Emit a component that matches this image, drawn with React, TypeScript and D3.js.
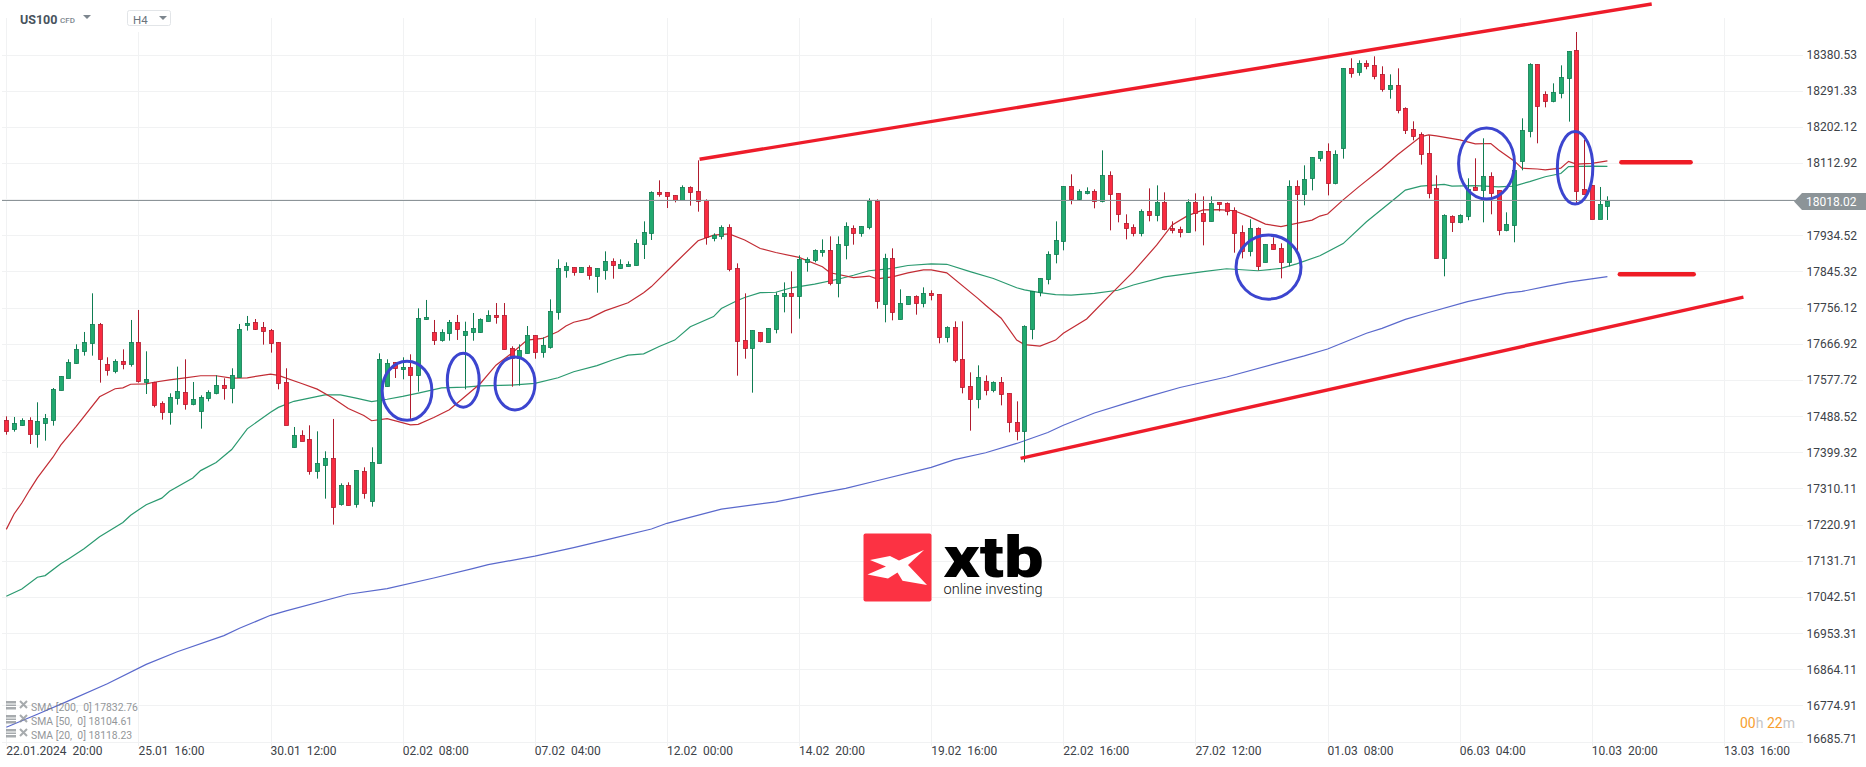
import { line, scaleLinear } from "d3";

const width = 1866;
const height = 767;

// 4h candles
const opens = [
  17479.7, 17457.5, 17467.4, 17478.1, 17445.2, 17472.3, 17479.7, 17552.1, 17583.3, 17618.7,
  17650, 17668, 17714.9, 17616.2, 17599, 17623.6, 17616.2, 17670.5, 17571.8, 17571.8,
  17520, 17497.8, 17532.3, 17547.1, 17517.5, 17500.3, 17532.3, 17544.7, 17564.4, 17557,
  17585.8, 17712.4, 17719.8, 17707.5, 17700.9, 17670.5, 17571.8, 17413.1, 17441, 17431.2,
  17353.9, 17367.1, 17384.3, 17270.9, 17317.7, 17270.9, 17352.3, 17279.9, 17372, 17563.6,
  17621.2, 17603.9, 17608.8, 17589.1, 17727.2, 17695.2, 17675.4, 17692.7, 17719.8, 17689.3,
  17695.1, 17695.9, 17722.2, 17737, 17737, 17655.6, 17630.9, 17643.3, 17687.7, 17645.8,
  17659.7, 17744.4, 17849.7, 17855.4, 17844.8, 17855.4, 17834.9, 17849.7, 17870.2, 17853,
  17857.9, 17860.4, 17912.2, 17939.3, 18040.5, 18040.5, 18033, 18020.7, 18052.8, 18042.9,
  18020.7, 17927, 17931.9, 17954.1, 17853, 17675.4, 17655.6, 17695.1, 17670.4, 17702.5,
  17783.9, 17791.3, 17783.9, 17867.8, 17872.7, 17892.4, 17897.4, 17816, 17909.7, 17951.6,
  17939.3, 17954.1, 18018.2, 17764.2, 17877.6, 17727.2, 17764.2, 17783.9, 17766.6, 17791.3,
  17788.8, 17682.8, 17707.4, 17628.5, 17561.9, 17529.8, 17574.2, 17552, 17571.7, 17544.6,
  17473.1, 17450.9, 17702.5, 17793.8, 17825.8, 17887.5, 17919.6, 18055.3, 18023.2, 18038,
  18042.9, 18018.2, 18082.4, 18038, 17964, 17954.1, 17939.3, 17993.6, 17983.7, 18015.8,
  17951.6, 17949.2, 17941.8, 18015.8, 17988.7, 17968.9, 18015.8, 18013.3, 17996.1, 17941.8,
  17894.9, 17951.6, 17867.8, 17912.2, 17902.3, 17867.8, 18055.3, 18035.5, 18075, 18124.3,
  18141.6, 18062.7, 18150.7, 18346.4, 18336.6, 18358.8, 18353.8, 18331.6, 18294.6, 18304.5,
  18247.8, 18196, 18183.6, 18136.7, 18050.4, 17877.7, 17981.3, 17966.5, 17981.3, 18052.9,
  18045.5, 18080, 18045.5, 17946.8, 17959.1, 18117, 18191, 18356.3, 18282.3, 18265,
  18284.8, 18321.8, 18391.7, 18048.7, 18058.6, 17975.6, 18007.6,
];
const highs = [
  17487.9, 17486.3, 17483, 17485.5, 17522.5, 17493.7, 17557.8, 17586.7, 17628.6, 17665.6,
  17696, 17791.4, 17718.2, 17633.5, 17628.6, 17653.2, 17725.6, 17750.3, 17648.3, 17573,
  17524.9, 17544.7, 17610.5, 17628.6, 17572.6, 17539.7, 17552.1, 17589.1, 17581.7, 17606.4,
  17715.7, 17735.5, 17728, 17720.6, 17703.4, 17671, 17606.4, 17461.6, 17453.4, 17465.7,
  17450.9, 17401.6, 17481.4, 17322.6, 17325.1, 17354.7, 17362.1, 17411.5, 17643.4, 17628.6,
  17621.5, 17633.5, 17640.9, 17754.4, 17775, 17725.6, 17702.6, 17725.6, 17738, 17721.4,
  17742.8, 17729.6, 17749.4, 17767.4, 17767.4, 17660.6, 17665.5, 17710.7, 17688, 17682.8,
  17776.5, 17875.2, 17867.8, 17855.6, 17855.6, 17860.4, 17853.2, 17894.9, 17877.6, 17875.2,
  17870.2, 17924.5, 17968.9, 18042.9, 18070.1, 18040.7, 18033.2, 18057.7, 18055.3, 18119.4,
  18023.2, 17939.3, 17959, 17961.5, 17865.3, 17791.3, 17700.2, 17695.3, 17705.2, 17793.8,
  17818.4, 17845.6, 17885, 17880.1, 17899.8, 17924.5, 17931.9, 17931.9, 17966.5, 17959,
  17956.8, 18025.7, 18023.2, 17889, 17902.3, 17801.2, 17784.1, 17786.4, 17806.1, 17798.7,
  17789, 17709.9, 17722.2, 17722.2, 17596.4, 17613.7, 17589, 17574.2, 17584.9, 17544.8,
  17524.9, 17712.4, 17796.4, 17828.5, 17894.9, 17968.9, 18055.5, 18084.9, 18047.9, 18052.8,
  18047.9, 18144.1, 18092.3, 18038.2, 17986.2, 17961.5, 17998.5, 18050.3, 18057.7, 18040.5,
  17968.9, 17955.8, 18023.2, 18038, 18030.6, 18030.6, 18016, 18015.8, 18003.5, 17959,
  17973.9, 17954.1, 17912.4, 17929.4, 17914.7, 18070.1, 18070.1, 18107.1, 18127, 18141.8,
  18161.3, 18144.1, 18346.6, 18371.1, 18366.2, 18366.2, 18376, 18351.4, 18331.6, 18346.4,
  18250.2, 18215.7, 18188.5, 18181.1, 18082.5, 17986.3, 17983.8, 17986.3, 18075.1, 18124.4,
  18173.8, 18089.9, 18045.7, 17991.2, 18120.3, 18223.1, 18358.8, 18356.5, 18289.7, 18309.4,
  18353.8, 18388.6, 18436, 18169.6, 18058.8, 18053.7, 18030.7,
];
const lows = [
  17442.7, 17450.1, 17464.9, 17419.7, 17410.6, 17427.9, 17464.9, 17552, 17583, 17617,
  17637.6, 17637.6, 17571, 17588.3, 17594, 17603.9, 17610.5, 17571, 17543, 17510.1,
  17479.7, 17467.4, 17516.7, 17504.4, 17515.1, 17457.5, 17524.9, 17542.2, 17529, 17520,
  17584.2, 17699.3, 17700.9, 17664.7, 17645, 17554.5, 17467.4, 17410.6, 17427.9, 17344,
  17334.2, 17284.8, 17220.7, 17267.6, 17268, 17262.6, 17284.8, 17265.1, 17372, 17561,
  17582.5, 17579.2, 17481.4, 17548.8, 17725.6, 17663.9, 17672.1, 17674.6, 17676.3, 17554.5,
  17674.5, 17694.3, 17722, 17716.5, 17653, 17561, 17563.5, 17643, 17630.1, 17632.6,
  17654.8, 17726.4, 17829.9, 17834.9, 17842.3, 17825, 17792.9, 17825, 17827.5, 17852.2,
  17857.1, 17859.6, 17876, 17922.9, 18029.8, 18001.8, 18015.8, 18020.5, 18007.6, 17992.8,
  17911.4, 17919.6, 17924.5, 17845.6, 17588.2, 17630.1, 17546.3, 17670.4, 17670.2, 17692.6,
  17744.4, 17692.6, 17728.8, 17844.8, 17867.8, 17881.8, 17811.1, 17781.4, 17875.2, 17911.4,
  17931.1, 17949.2, 17753.5, 17719.8, 17724.7, 17727, 17764, 17738.7, 17756.8, 17774,
  17668, 17670.4, 17621.1, 17544.6, 17452.5, 17507.6, 17539.7, 17547.1, 17515, 17448.4,
  17428.7, 17374.4, 17677.8, 17783.9, 17813.5, 17865.3, 17897.4, 18010.9, 18020.7, 18035.5,
  18001, 18015.8, 17946.7, 17966.5, 17924.5, 17931.9, 17931.9, 17968.9, 17968.9, 17946.7,
  17939.3, 17929.4, 17941.6, 17944.2, 17909.7, 17968.7, 17993.6, 17983.7, 17891.6, 17877.6,
  17882.6, 17848, 17867.6, 17899.6, 17828.3, 17857.9, 17892.4, 18008.4, 18045.4, 18116.9,
  18033, 18060.2, 18123.6, 18323.4, 18328.3, 18344, 18319.3, 18288.9, 18271.6, 18235.4,
  18184.4, 18168.8, 18108.8, 18025.7, 17877.5, 17833.3, 17942.7, 17964, 17971.5, 18045.3,
  17966.5, 17986.3, 17934.5, 17944.3, 17917.2, 18094.8, 18176.2, 18161.4, 18250.2, 18262.6,
  18272.4, 18214.9, 18014.2, 18036.2, 17975.4, 17975.4, 17972.3,
];
const closes = [
  17452.6, 17470.7, 17478.1, 17445.2, 17475.6, 17483, 17554.5, 17586.7, 17621.2, 17653.2,
  17670.5, 17714.9, 17628.6, 17601.4, 17623.6, 17616.2, 17670.5, 17574.3, 17579.2, 17516.7,
  17497.8, 17534.8, 17549.6, 17517.5, 17529.9, 17534.8, 17547.1, 17564.4, 17557, 17589.1,
  17703.4, 17718.2, 17703.4, 17697.6, 17668, 17569.3, 17467.4, 17441, 17427.9, 17353.9,
  17372, 17384.3, 17263.4, 17317.7, 17268.4, 17354.7, 17298, 17374.5, 17628.6, 17618.7,
  17606.4, 17608.8, 17589.1, 17729.7, 17732.2, 17675.4, 17695.2, 17719.8, 17702.6, 17697.6,
  17705, 17727.2, 17737, 17732.1, 17653.2, 17630.9, 17650.7, 17687.7, 17645.8, 17663,
  17746.9, 17853, 17857.9, 17844.8, 17855.4, 17837.3, 17853, 17870.2, 17860.4, 17862.8,
  17862.8, 17914.7, 17941.8, 18040.5, 18035.5, 18030.6, 18020.7, 18052.8, 18040.5, 18019.9,
  17929.4, 17934.4, 17954.1, 17850.5, 17672.9, 17655.6, 17700, 17672.9, 17705, 17786.4,
  17791.3, 17783.9, 17875.2, 17875.2, 17897.4, 17897.4, 17816, 17912.2, 17956.6, 17939.3,
  17956.6, 18018.2, 17771.6, 17877.6, 17744.4, 17766.6, 17783.9, 17766.6, 17791.3, 17786.4,
  17682.8, 17707.4, 17626, 17559.4, 17529.8, 17584.1, 17552, 17571.7, 17542.2, 17473.1,
  17450.9, 17709.9, 17796.2, 17828.3, 17889, 17922.1, 18055.3, 18023.2, 18042.9, 18042.9,
  18019.1, 18082.4, 18035.5, 17986.2, 17951.6, 17939.3, 17993.6, 17983.7, 18015.8, 17949.2,
  17946.7, 17941.8, 18015.8, 17988.7, 17968.9, 18013.3, 18010.9, 17993.6, 17939.3, 17894.9,
  17951.6, 17857.9, 17912.2, 17899.8, 17867.8, 18055.3, 18035.5, 18072.5, 18126.8, 18141.6,
  18062.7, 18134.2, 18346.4, 18334.1, 18358.8, 18351.4, 18326.7, 18294.6, 18304.5, 18242.8,
  18193.5, 18178.7, 18134.3, 18038, 17877.7, 17983.8, 17966.5, 17983.8, 18047.9, 18045.5,
  18080, 18038, 17946.8, 17961.6, 18095.6, 18193.5, 18356.3, 18252.7, 18265, 18287.2,
  18324.2, 18388.4, 18044.6, 18036.4, 17975.6, 18010.9, 18018,
];

const sma20Bars = [
  0, 1, 2, 3, 4, 6, 7, 9, 12, 14, 15, 16, 18, 19, 21, 23, 25, 27, 29, 31, 34, 35, 38, 40, 42, 44, 46, 47, 49, 52, 53, 55, 57, 58,
  61, 63, 65, 67, 69, 71, 72, 73, 75, 77, 80, 82, 83, 86, 89, 91, 93, 95, 97, 99, 102, 105, 106, 109, 111, 112, 114, 116, 118, 119, 121,
  125, 126, 128, 130, 131, 133, 135, 136, 139, 142, 145, 148, 150, 152, 154, 156, 158, 160, 162, 164, 166, 168, 169, 170, 172, 174,
  177, 179, 182, 183, 184, 187, 189, 191, 192, 194, 195, 197, 198, 200, 201, 202, 204, 206,
];
const sma20Values = [
  17209, 17247, 17274, 17306, 17336, 17387, 17417, 17463, 17536, 17556, 17558, 17567, 17568, 17572, 17578, 17583, 17588, 17588, 17582, 17583, 17592, 17589, 17569, 17555, 17533, 17507, 17490, 17477, 17482, 17467, 17468, 17485, 17504, 17520,
  17569, 17614, 17643, 17676, 17680, 17697, 17711, 17720, 17729, 17748, 17768, 17793, 17808, 17865, 17921, 17935, 17938, 17923, 17902, 17892, 17880, 17857, 17842, 17830, 17834, 17827, 17832, 17842, 17849, 17849, 17842,
  17779, 17762, 17730, 17676, 17665, 17661, 17676, 17693, 17728, 17787, 17845, 17910, 17960, 17983, 17997, 17998, 17995, 17980, 17962, 17956, 17964, 17972, 17982, 17987, 18022, 18054,
  18100, 18133, 18178, 18182, 18180, 18170, 18160, 18161, 18145, 18118, 18100, 18098, 18096, 18100, 18117, 18110, 18112, 18118.23,
];

const sma50Bars = [
  0, 2, 4, 5, 7, 8, 10, 12, 15, 16, 18, 20, 21, 24, 25, 27, 29, 31, 34, 35, 37, 39, 41, 43, 45, 47, 49, 51, 53, 56, 59,
  61, 65, 68, 71, 73, 76, 78, 80, 82, 84, 86, 88, 91, 92, 94, 95, 97, 99, 101, 104, 107, 109, 111, 114, 116, 119, 121,
  124, 127, 130, 131, 133, 135, 137, 140, 143, 145, 149, 154, 157, 161, 164, 166, 169, 172, 175, 179, 180, 182, 185, 186, 189, 192, 194, 196, 198, 200, 201, 204, 206,
];
const sma50Values = [
  17044, 17062, 17091, 17095, 17124, 17136, 17161, 17191, 17226, 17244, 17270, 17286, 17303, 17336, 17354, 17374, 17406, 17457, 17498, 17510, 17525, 17533, 17541, 17541, 17533, 17524, 17530, 17537, 17545, 17558, 17560,
  17563, 17565, 17569, 17583, 17598, 17613, 17627, 17639, 17642, 17660, 17676, 17709, 17734, 17754, 17773, 17781, 17793, 17794, 17805, 17814, 17826, 17836, 17847, 17853, 17860, 17864, 17863,
  17845, 17828, 17805, 17800, 17793, 17788, 17787, 17791, 17799, 17812, 17832, 17845, 17852, 17847, 17853, 17864, 17884, 17914, 17968, 18030, 18046, 18056, 18060, 18056, 18057, 18054, 18056, 18067, 18079, 18087, 18104, 18105, 18104.61,
];

const sma200Bars = [
  0, 4, 8, 13, 18, 22, 28, 30, 34, 36, 44, 49, 55, 60, 62, 68, 73, 78, 83, 85, 92, 99, 104, 108, 112, 119, 122, 126, 130, 134, 136, 140, 144, 147, 151, 157, 167, 170, 175, 177, 180, 183, 188, 193, 195, 198, 201, 206,
];
const sma200Values = [
  16721, 16753, 16786, 16828, 16876, 16907, 16947, 16965, 16997, 17008, 17049, 17063, 17089, 17112, 17122, 17143, 17164, 17187, 17210, 17224, 17259, 17277, 17296, 17310, 17329, 17362, 17381, 17398, 17421, 17448, 17466, 17496, 17520, 17537, 17559, 17585, 17637, 17654, 17693, 17705, 17727, 17744, 17771, 17792, 17796, 17808, 17819, 17832.76,
];

const priceTicks = [
  18380.53, 18291.33, 18202.12, 18112.92, 18023.72, 17934.52, 17845.32, 17756.12, 17666.92, 17577.72,
  17488.52, 17399.32, 17310.11, 17220.91, 17131.71, 17042.51, 16953.31, 16864.11, 16774.91, 16685.71,
];
const timeLabels = [
  "22.01.2024  20:00", "25.01  16:00", "30.01  12:00", "02.02  08:00", "07.02  04:00", "12.02  00:00", "14.02  20:00",
  "19.02  16:00", "22.02  16:00", "27.02  12:00", "01.03  08:00", "06.03  04:00", "10.03  20:00", "13.03  16:00",
];
const barsPerTick = 17;
const lastPrice = 18018.02;

const legendRows = ["SMA [200,  0] 17832.76", "SMA [50,  0] 18104.61", "SMA [20,  0] 18118.23"];

// hand drawn annotations, in bar index / price
const trendLines = [
  { bar0: 89.2, price0: 18122, bar1: 211.7, price1: 18505 },
  { bar0: 130.5, price0: 17384, bar1: 223.5, price1: 17782 },
];
const levelLines = [
  { bar0: 207.8, bar1: 216.7, price: 18114.6 },
  { bar0: 207.6, bar1: 217.1, price: 17838.3 },
];
const circles = [
  { bar: 51.56, price: 17551, bars: 3.2, span: 73 },
  { bar: 58.79, price: 17577, bars: 2.05, span: 66.6 },
  { bar: 65.45, price: 17569, bars: 2.57, span: 65.4 },
  { bar: 162.4, price: 17856, bars: 4.18, span: 79 },
  { bar: 190.45, price: 18111.6, bars: 3.6, span: 87.6 },
  { bar: 201.84, price: 18101, bars: 2.28, span: 89.3 },
];

const GREEN = "#21a96f";
const GREEN_DARK = "#0f7c52";
const RED = "#f92b40";
const RED_DARK = "#b01b2e";
const GRID = "#f1f2f3";
const FONT = "Roboto, sans-serif";

export default function App() {
  const x = scaleLinear().domain([0, barsPerTick * 13]).range([6.3, 1724]);
  const y = scaleLinear().domain([16685.71, 18380.53]).range([741.5, 54.5]);

  const smaPath = (bars: number[], values: number[]) =>
    line<number>()
      .x((b) => x(b))
      .y((_, i) => y(values[i]))(bars) ?? "";

  const snap = (v: number) => Math.round(v) + 0.5;

  return (
    <svg
      width={width}
      height={height}
      style={{ position: "absolute", left: 0, top: 0, background: "#fff", fontFamily: FONT }}
    >
      {/* grid */}
      {priceTicks.map((p) => (
        <line key={p} x1={2} x2={1803} y1={snap(y(p))} y2={snap(y(p))} stroke={GRID} />
      ))}
      {timeLabels.map((t, i) => (
        <line key={t} x1={snap(x(i * barsPerTick))} x2={snap(x(i * barsPerTick))} y1={18} y2={746} stroke={GRID} />
      ))}

      {/* moving averages */}
      <path d={smaPath(sma200Bars, sma200Values)} fill="none" stroke="#5a69cc" strokeWidth={1.2} />
      <path d={smaPath(sma50Bars, sma50Values)} fill="none" stroke="#2b9a70" strokeWidth={1.2} />
      <path d={smaPath(sma20Bars, sma20Values)} fill="none" stroke="#c22c34" strokeWidth={1.2} />

      {/* candles */}
      {opens.map((open, i) => {
        const close = closes[i];
        const up = close >= open;
        const c = snap(x(i));
        const top = Math.round(y(Math.max(open, close)));
        const bottom = Math.round(y(Math.min(open, close)));
        return (
          <g key={i}>
            <line x1={c} x2={c} y1={y(highs[i])} y2={y(lows[i])} stroke={up ? GREEN_DARK : RED_DARK} />
            <rect
              x={c - 2}
              y={top + 0.5}
              width={4}
              height={Math.max(bottom - top, 1)}
              fill={up ? GREEN : RED}
              stroke={up ? GREEN_DARK : RED_DARK}
              strokeWidth={0.8}
            />
          </g>
        );
      })}

      {/* last price */}
      <line x1={2} x2={1796} y1={snap(y(lastPrice)) - 1} y2={snap(y(lastPrice)) - 1} stroke="#8c9498" />
      <path d={`M1794 ${y(lastPrice)}l8 -8.5h64v17h-64z`} fill="#8c9498" />
      <text x={1806} y={y(lastPrice) + 4.5} fontSize={12} fill="#fff">
        {lastPrice.toFixed(2)}
      </text>

      {/* annotations */}
      {trendLines.map((t) => (
        <line
          key={t.bar0}
          x1={x(t.bar0)}
          x2={x(t.bar1)}
          y1={y(t.price0)}
          y2={y(t.price1)}
          stroke="#ee1c2a"
          strokeWidth={3.4}
        />
      ))}
      {levelLines.map((l) => (
        <line
          key={l.price}
          x1={x(l.bar0)}
          x2={x(l.bar1)}
          y1={y(l.price)}
          y2={y(l.price)}
          stroke="#ee1c25"
          strokeWidth={4.5}
          strokeLinecap="round"
        />
      ))}
      {circles.map((e) => (
        <ellipse
          key={e.bar}
          cx={x(e.bar)}
          cy={y(e.price)}
          rx={x(e.bars) - x(0)}
          ry={y(0) - y(e.span)}
          fill="none"
          stroke="#3c45cf"
          strokeWidth={3}
        />
      ))}

      {/* axes */}
      {priceTicks.map((p) =>
        Math.abs(p - lastPrice) < 20 ? null : (
          <text key={p} x={1806.5} y={Math.min(y(p), 738) + 4.5} fontSize={12} fill="#3c4248">
            {p.toFixed(2)}
          </text>
        )
      )}
      {timeLabels.map((t, i) => (
        <text
          key={t}
          x={x(i * barsPerTick)}
          y={755}
          fontSize={12}
          fill="#3c4248"
          style={{ whiteSpace: "pre" }}
        >
          {t}
        </text>
      ))}

      {/* header */}
      <text x={20} y={24} fontSize={12.5} fontWeight={700} fill="#48535d">
        US100
      </text>
      <text x={60} y={22.5} fontSize={8} fontWeight={500} fill="#7d868e">
        CFD
      </text>
      <path d="M83 15h8l-4 4z" fill="#7d868e" />
      <rect x={127} y={8} width={44} height={24} fill="#fff" />
      <rect x={127.5} y={10.5} width={43} height={15} rx={2} fill="#fff" stroke="#e2e5e8" />
      <text x={133} y={24} fontSize={11.5} fill="#6b747c">
        H4
      </text>
      <path d="M159 16h8l-4 4z" fill="#7d868e" />

      {/* logo */}
      <rect x={863.5} y={533.5} width={68} height={68} rx={2} fill="#fc3243" />
      <path
        d="M870 560 L890 556 L899 560.5 L924 550 L908 565 L927 585 L902.5 580.7 L897.5 572.5 L888 578.5 L867.5 574.5 L886 566.5 Z"
        fill="#fff"
      />
      <text x={943.5} y={577} fontSize={57} fontWeight={900} fill="#000" textLength={100} lengthAdjust="spacingAndGlyphs">
        xtb
      </text>
      <text x={943.5} y={594} fontSize={15} fontWeight={300} fill="#111" textLength={99} lengthAdjust="spacingAndGlyphs">
        online investing
      </text>

      {/* indicator legend */}
      {legendRows.map((row, i) => (
        <g key={row} opacity={0.75}>
          <rect x={6} y={707 + i * 14 - 6} width={10} height={2.5} fill="#8a8f93" />
          <rect x={6} y={707 + i * 14 - 2.5} width={10} height={1.5} fill="#8a8f93" />
          <rect x={6} y={707 + i * 14} width={10} height={2.5} fill="#8a8f93" />
          <path
            d={`M20 ${701 + i * 14}l7 7m0 -7l-7 7`}
            stroke="#8a8f93"
            strokeWidth={2}
            fill="none"
          />
          <text x={31} y={711 + i * 14} fontSize={10.4} fill="#6f7478" style={{ whiteSpace: "pre" }}>
            {row}
          </text>
        </g>
      ))}

      {/* candle countdown */}
      <text x={1740} y={727.5} fontSize={14} fill="#c4c6c8" style={{ whiteSpace: "pre" }}>
        <tspan fill="#f7a030">00</tspan>h <tspan fill="#f7a030">22</tspan>m
      </text>
    </svg>
  );
}
